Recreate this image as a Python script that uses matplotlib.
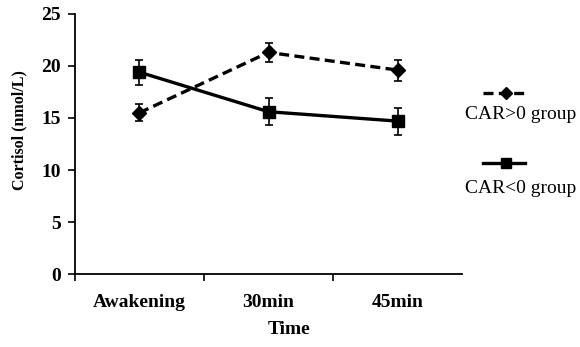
import numpy as np
import matplotlib
matplotlib.use('Agg')
import matplotlib.pyplot as plt
from matplotlib.lines import Line2D

# data
times = ['Awakening', '30min', '45min']
car_pos = [15.5, 21.3, 19.6]
car_pos_err = [0.8, 0.95, 1.0]
car_neg = [19.4, 15.6, 14.7]
car_neg_err = [1.2, 1.3, 1.3]
legend_labels = ['CAR>0 group', 'CAR<0 group']

plt.rcParams['font.family'] = ['Liberation Serif', 'DejaVu Serif']

fig = plt.figure(figsize=(5.8, 3.47), dpi=100)
ax = fig.add_axes([0.129, 0.21, 0.668, 0.75])

x = np.arange(len(times))
ax.errorbar(x, car_pos, yerr=car_pos_err, color='black', linestyle=(0, (3, 1.6)),
            linewidth=2.4, marker='D', markersize=7.5, capsize=2.8, elinewidth=1.2,
            capthick=1.2)
ax.errorbar(x, car_neg, yerr=car_neg_err, color='black', linestyle='-',
            linewidth=2.4, marker='s', markersize=8.5, capsize=2.8, elinewidth=1.2,
            capthick=1.2)

ax.set_xlim(-0.5, 2.5)
ax.set_ylim(0, 25)
ax.set_yticks([0, 5, 10, 15, 20, 25])
ax.set_xticks([-0.5, 0.5, 1.5])
ax.set_xticklabels([])
ax.set_xticks(x, minor=True)
ax.set_xticklabels(times, minor=True)
ax.tick_params(axis='x', which='minor', length=0, pad=14)
ax.tick_params(axis='x', which='major', length=5, width=1.2)
ax.tick_params(axis='y', length=5, width=1.2, pad=5)
for lab in ax.get_xticklabels(minor=True) + ax.get_yticklabels():
    lab.set_fontsize(14)
    lab.set_fontweight('bold')

ax.spines['top'].set_visible(False)
ax.spines['right'].set_visible(False)
ax.spines['left'].set_linewidth(1.3)
ax.spines['bottom'].set_linewidth(1.3)

ax.set_ylabel('Cortisol (nmol/L)', fontsize=11.5, fontweight='bold')
ax.yaxis.set_label_coords(-0.122, 0.555)
ax.set_xlabel('Time', fontsize=14, fontweight='bold')
ax.xaxis.set_label_coords(0.553, -0.182)

# legend drawn at the right, line above label
styles = [((0, (3, 1.6)), 'D', 6.5), ('-', 's', 7.5)]
line_ys = [0.732, 0.53]
text_ys = [0.671, 0.458]
for (ls, mk, ms), yy, ty, lab in zip(styles, line_ys, text_ys, legend_labels):
    fig.add_artist(Line2D([0.832, 0.906], [yy, yy], transform=fig.transFigure,
                          color='black', linestyle=ls, linewidth=2.4))
    fig.add_artist(Line2D([0.872], [yy], transform=fig.transFigure,
                          color='black', marker=mk, markersize=ms))
    fig.text(0.897, ty, lab, fontsize=14, ha='center', va='center')

fig.savefig('out.png', dpi=100)
